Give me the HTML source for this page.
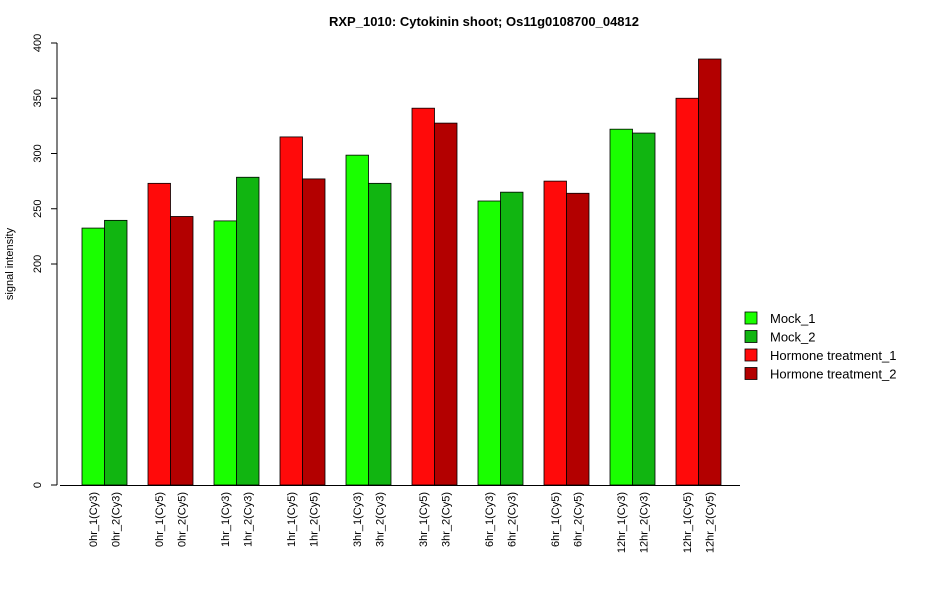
<!DOCTYPE html>
<html><head><meta charset="utf-8"><style>
body{margin:0;background:#fff;}
svg text{font-family:"Liberation Sans",Arial,sans-serif;fill:#000;}
</style></head><body>
<svg id="chart" width="950" height="600" xmlns="http://www.w3.org/2000/svg">
<text x="484" y="26" text-anchor="middle" font-size="13" font-weight="bold">RXP_1010: Cytokinin shoot; Os11g0108700_04812</text>
<text transform="translate(13,264) rotate(-90)" text-anchor="middle" font-size="11">signal intensity</text>
<g id="plot"></g>
<g id="legend"></g>
</svg>
<script>
const categories=["0hr_1(Cy3)","0hr_2(Cy3)","0hr_1(Cy5)","0hr_2(Cy5)","1hr_1(Cy3)","1hr_2(Cy3)","1hr_1(Cy5)","1hr_2(Cy5)","3hr_1(Cy3)","3hr_2(Cy3)","3hr_1(Cy5)","3hr_2(Cy5)","6hr_1(Cy3)","6hr_2(Cy3)","6hr_1(Cy5)","6hr_2(Cy5)","12hr_1(Cy3)","12hr_2(Cy3)","12hr_1(Cy5)","12hr_2(Cy5)"];
const values=[232.5,239.5,273,243,239,278.5,315,277,298.5,273,341,327.5,257,265,275,264,322,318.5,350,385.5];
const seriesIdx=[0,1,2,3,0,1,2,3,0,1,2,3,0,1,2,3,0,1,2,3];
const seriesNames=["Mock_1","Mock_2","Hormone treatment_1","Hormone treatment_2"];
const yTicks=[0,200,250,300,350,400];
const colors=["#1aff00","#11b511","#ff0a0a","#b30000"];
const NS="http://www.w3.org/2000/svg";
const plot=document.getElementById('plot');
const y0=485,k=442/400;
function yS(v){return y0-v*k;}
function xS(i){return 82+Math.floor(i/2)*66+(i%2)*22.5;}
function mk(t,a,p){const e=document.createElementNS(NS,t);for(const n in a)e.setAttribute(n,a[n]);(p||plot).appendChild(e);return e;}
const ax=mk('line',{x1:57,x2:57,y1:yS(0),y2:yS(400),stroke:'#000'});


yTicks.forEach(t=>{
 const l=mk('line',{x1:51,x2:57,y1:yS(t),y2:yS(t),stroke:'#000'});
 
 
 const tx=mk('text',{transform:`translate(41,${yS(t)}) rotate(-90)`,'text-anchor':'middle','font-size':11});
 tx.textContent=t;
 
 
});
const bl=mk('line',{x1:60,x2:740,y1:485.5,y2:485.5,stroke:'#000'});


values.forEach((v,i)=>{
 const r=mk('rect',{x:xS(i),y:yS(v),width:22.5,height:yS(0)-yS(v),fill:colors[seriesIdx[i]],stroke:'#000','stroke-width':0.8});
 
 
 const tx=mk('text',{transform:`translate(${xS(i)+15},492) rotate(-90)`,'text-anchor':'end','font-size':11});
 tx.textContent=categories[i];
 
 
});
const lg=document.getElementById('legend');
seriesNames.forEach((s,i)=>{
 const yy=318+i*18.5;
 const r=mk('rect',{x:745,y:yy-6,width:12,height:12,fill:colors[i],stroke:'#000','stroke-width':0.8},lg);
 
 
 const tx=mk('text',{x:770,y:yy+5,'font-size':13},lg);
 tx.textContent=s;
 
 
});
</script>
</body></html>
